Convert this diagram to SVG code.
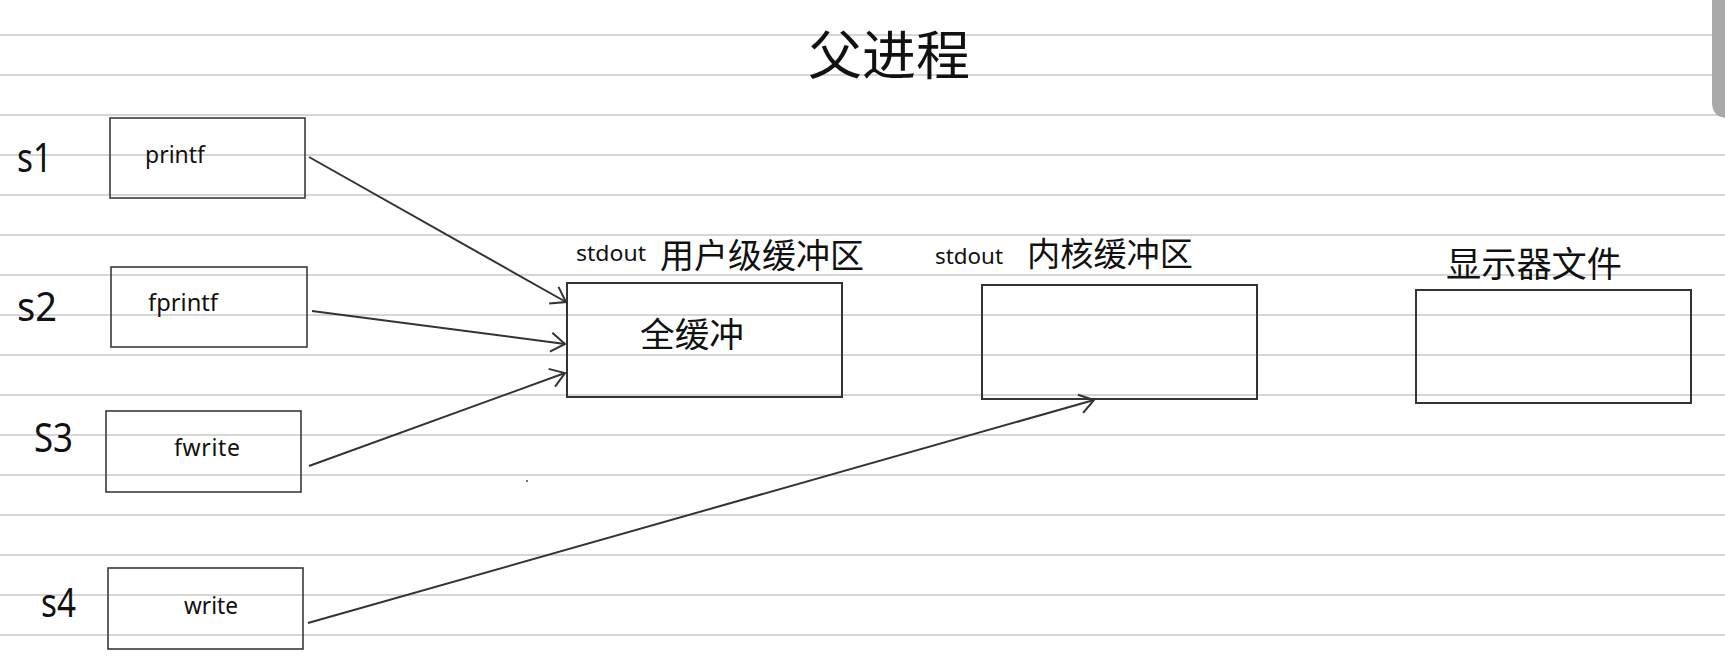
<svg xmlns="http://www.w3.org/2000/svg" width="1725" height="666" viewBox="0 0 1725 666">
<style>
.rule{stroke:#c9c9c9;stroke-width:1.6}
.box{fill:none;stroke:#333;stroke-width:2}
.sbox{fill:none;stroke:#3a3a3a;stroke-width:1.6}
.lbl{font-family:"Noto Sans","Liberation Sans",sans-serif;fill:#111}
.cjk{font-family:"Noto Sans CJK SC","Noto Sans",sans-serif;fill:#111}
.edge{fill:none;stroke:#333;stroke-width:2}
</style>
<defs>
<marker id="arr" viewBox="0 0 20 20" markerWidth="20" markerHeight="20" refX="16" refY="10" orient="auto" markerUnits="userSpaceOnUse" overflow="visible">
<path d="M2,0.5 L16,10 L2,19.5" fill="none" stroke="#333" stroke-width="2"/>
</marker>
</defs>
<rect width="1725" height="666" fill="#fff"/>
<g id="ruling">
<line class="rule" x1="0" y1="35" x2="1725" y2="35"/>
<line class="rule" x1="0" y1="75" x2="1725" y2="75"/>
<line class="rule" x1="0" y1="115" x2="1725" y2="115"/>
<line class="rule" x1="0" y1="155" x2="1725" y2="155"/>
<line class="rule" x1="0" y1="195" x2="1725" y2="195"/>
<line class="rule" x1="0" y1="235" x2="1725" y2="235"/>
<line class="rule" x1="0" y1="275" x2="1725" y2="275"/>
<line class="rule" x1="0" y1="315" x2="1725" y2="315"/>
<line class="rule" x1="0" y1="355" x2="1725" y2="355"/>
<line class="rule" x1="0" y1="395" x2="1725" y2="395"/>
<line class="rule" x1="0" y1="435" x2="1725" y2="435"/>
<line class="rule" x1="0" y1="475" x2="1725" y2="475"/>
<line class="rule" x1="0" y1="515" x2="1725" y2="515"/>
<line class="rule" x1="0" y1="555" x2="1725" y2="555"/>
<line class="rule" x1="0" y1="595" x2="1725" y2="595"/>
<line class="rule" x1="0" y1="635" x2="1725" y2="635"/>
</g>
<path d="M1712,0 H1725 V118 H1728 Q1712,118 1712,102 Z" fill="#a9a9a9"/>
<text class="cjk" x="808" y="75" font-size="53" textLength="162" lengthAdjust="spacingAndGlyphs">父进程</text>
<g id="s1"><text class="lbl" x="17" y="172" font-size="40" textLength="35" lengthAdjust="spacingAndGlyphs">s1</text></g>
<g id="s2"><text class="lbl" x="17" y="321" font-size="40" textLength="40" lengthAdjust="spacingAndGlyphs">s2</text></g>
<g id="s3"><text class="lbl" x="34" y="452" font-size="40" textLength="39" lengthAdjust="spacingAndGlyphs">S3</text></g>
<g id="s4"><text class="lbl" x="41" y="617" font-size="40" textLength="35" lengthAdjust="spacingAndGlyphs">s4</text></g>
<g id="printf">
<rect class="sbox" x="110" y="118" width="195" height="80"/>
<text class="lbl" x="145" y="163" font-size="23" textLength="60" lengthAdjust="spacingAndGlyphs">printf</text>
</g>
<g id="fprintf">
<rect class="sbox" x="111" y="267" width="196" height="80"/>
<text class="lbl" x="148" y="311" font-size="23" textLength="70" lengthAdjust="spacingAndGlyphs">fprintf</text>
</g>
<g id="fwrite">
<rect class="sbox" x="106" y="411" width="195" height="81"/>
<text class="lbl" x="174" y="456" font-size="23" textLength="66" lengthAdjust="spacing">fwrite</text>
</g>
<g id="write">
<rect class="sbox" x="108" y="568" width="195" height="81"/>
<text class="lbl" x="184" y="614" font-size="23" textLength="54" lengthAdjust="spacingAndGlyphs">write</text>
</g>
<g id="userbuf">
<text class="lbl" x="576" y="261" font-size="22" textLength="70" lengthAdjust="spacingAndGlyphs">stdout</text>
<text class="cjk" x="660" y="268" font-size="34" textLength="204" lengthAdjust="spacingAndGlyphs">用户级缓冲区</text>
<rect class="box" x="567" y="283" width="275" height="114"/>
<text class="cjk" x="640" y="347" font-size="34" textLength="104" lengthAdjust="spacingAndGlyphs">全缓冲</text>
</g>
<g id="kernelbuf">
<text class="lbl" x="935" y="264" font-size="22" textLength="68" lengthAdjust="spacingAndGlyphs">stdout</text>
<text class="cjk" x="1027" y="266" font-size="33" textLength="166" lengthAdjust="spacingAndGlyphs">内核缓冲区</text>
<rect class="box" x="982" y="285" width="275" height="114"/>
</g>
<g id="display">
<text class="cjk" x="1446" y="277" font-size="35" textLength="176" lengthAdjust="spacingAndGlyphs">显示器文件</text>
<rect class="box" x="1416" y="290" width="275" height="113"/>
</g>
<g id="connectors">
<line class="edge" x1="309" y1="157" x2="566" y2="302" marker-end="url(#arr)"/>
<line class="edge" x1="312" y1="311" x2="565" y2="344" marker-end="url(#arr)"/>
<line class="edge" x1="309" y1="466" x2="565" y2="373" marker-end="url(#arr)"/>
<line class="edge" x1="308" y1="623" x2="1094" y2="400" marker-end="url(#arr)"/>
</g>
<circle cx="527" cy="481" r="1" fill="#444"/>
</svg>
